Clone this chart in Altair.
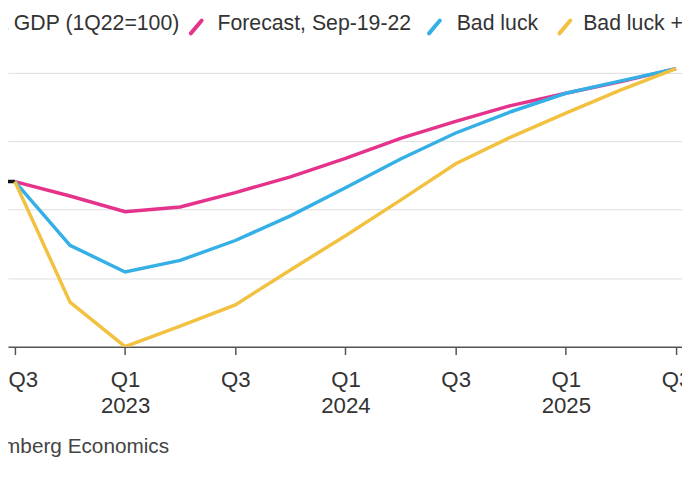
import altair as alt
import pandas as pd

# ---- data ----
quarters = ["Q2 2022", "Q3 2022", "Q4 2022", "Q1 2023", "Q2 2023", "Q3 2023", "Q4 2023",
            "Q1 2024", "Q2 2024", "Q3 2024", "Q4 2024", "Q1 2025", "Q2 2025", "Q3 2025"]
actual = [100.41, 100.41, None, None, None, None, None, None, None, None, None, None, None, None]
forecast = [None, 100.41, 100.20, 99.97, 100.04, 100.25, 100.48, 100.75, 101.04, 101.29,
            101.52, 101.70, 101.87, 102.06]
bad_luck = [None, 100.41, 99.48, 99.09, 99.26, 99.55, 99.91, 100.32, 100.74, 101.12,
            101.43, 101.70, 101.88, 102.06]
bad_luck_plus = [None, 100.41, 98.65, 98.00, 98.30, 98.61, 99.12, 99.62, 100.14, 100.67,
                 101.06, 101.41, 101.75, 102.06]

series_names = ["Actual", "Forecast, Sep-19-22", "Bad luck", "Bad luck +"]
series_colors = ["#111111", "#e5338c", "#35b0e6", "#f3c140"]
legend_labels = ["a GDP (1Q22=100)", "Forecast, Sep-19-22", "Bad luck", "Bad luck +"]

tick_quarters = ["Q3 2022", "Q1 2023", "Q3 2023", "Q1 2024", "Q3 2024", "Q1 2025", "Q3 2025"]
tick_top = ["Q3", "Q1", "Q3", "Q1", "Q3", "Q1", "Q3"]
tick_bottom = ["", "2023", "", "2024", "", "2025", ""]
source_text = "mberg Economics"

# ---- build table ----
rows = []
for name, vals in zip(series_names, [actual, forecast, bad_luck, bad_luck_plus]):
    for i, (q, v) in enumerate(zip(quarters, vals)):
        if v is not None:
            rows.append({"series": name, "quarter": q, "t": i - 1, "v": v})
df = pd.DataFrame(rows)

tick_vals = [quarters.index(q) - 1 for q in tick_quarters]
expr = "''"
for tv, top, bot in reversed(list(zip(tick_vals, tick_top, tick_bottom))):
    lab = f"['{top}', '{bot}']" if bot else f"'{top}'"
    expr = f"datum.value == {tv} ? {lab} : ({expr})"

FONT = "Liberation Sans"
W, H = 682, 298

x_enc = alt.X(
    "t:Q",
    scale=alt.Scale(domain=[-0.1256, 12.108], nice=False, zero=False),
    axis=alt.Axis(values=tick_vals, labelExpr=expr, title=None, grid=False,
                  domainColor="#555555", domainWidth=1.5, tickColor="#555555",
                  tickSize=8, tickWidth=1.5, labelFontSize=22.5, labelFont=FONT,
                  labelColor="#333333", labelPadding=14, labelLineHeight=26.5,
                  labelFlush=False, labelOverlap=False,
                  labelAlign={"condition": {"test": f"datum.value == {tick_vals[0]}",
                                            "value": "left"}, "value": "center"},
                  labelOffset={"condition": {"test": f"datum.value == {tick_vals[0]}",
                                             "value": -7}, "value": 0}),
)
y_enc = alt.Y(
    "v:Q",
    scale=alt.Scale(domain=[98, 102.30], nice=False, zero=False),
    axis=alt.Axis(values=[99, 100, 101, 102], grid=True, gridColor="#dddddd",
                  gridWidth=1, labels=False, ticks=False, domain=False, title=None),
)

lines = alt.Chart(df).mark_line(strokeWidth=3.5, clip=True).encode(
    x=x_enc,
    y=y_enc,
    color=alt.Color("series:N", scale=alt.Scale(domain=series_names, range=series_colors),
                    legend=None),
    order=alt.Order("t:Q"),
    detail="series:N",
)

one = pd.DataFrame({"k": [0]})
layers = [lines]

# legend (text + coloured slashes)
text_x = [-12, 212, 454, 582]
for lab, tx in zip(legend_labels, text_x):
    layers.append(
        alt.Chart(one).mark_text(text=lab, align="left", baseline="middle", fontSize=21.5,
                                 font=FONT, color="#333333")
        .encode(x=alt.value(tx), y=alt.value(-28))
    )
slash_x = [185, 426, 558]
for c, sx in zip(series_colors[1:], slash_x):
    layers.append(
        alt.Chart(one).mark_rule(strokeWidth=4, strokeCap="round", color=c)
        .encode(x=alt.value(sx), x2=alt.value(sx + 11), y=alt.value(-19), y2=alt.value(-32))
    )

layers.append(
    alt.Chart(one).mark_text(text=source_text, align="left", baseline="middle", fontSize=21,
                             font=FONT, color="#444444")
    .encode(x=alt.value(-5), y=alt.value(400))
)

chart = alt.layer(*layers).properties(
    width=W, height=H,
    autosize=alt.AutoSizeParams(type="none"),
    padding={"left": 0, "top": 42, "right": 0, "bottom": 112},
    background="white",
).configure_view(stroke=None)

chart.save("out.html", embed_options={"renderer": "svg", "actions": False})
